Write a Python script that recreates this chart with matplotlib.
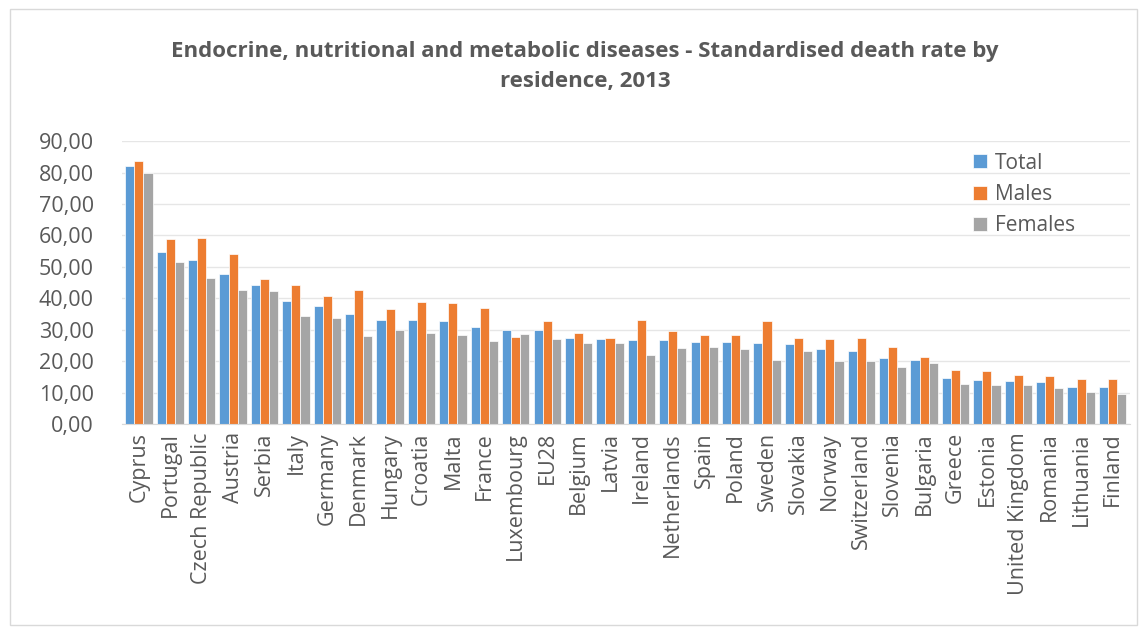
import matplotlib.pyplot as plt
import numpy as np
from matplotlib.ticker import FuncFormatter
from matplotlib.patches import Rectangle

plt.rcParams['font.family'] = ['Open Sans', 'DejaVu Sans']

countries = ["Cyprus", "Portugal", "Czech Republic", "Austria", "Serbia", "Italy",
             "Germany", "Denmark", "Hungary", "Croatia", "Malta", "France",
             "Luxembourg", "EU28", "Belgium", "Latvia", "Ireland", "Netherlands",
             "Spain", "Poland", "Sweden", "Slovakia", "Norway", "Switzerland",
             "Slovenia", "Bulgaria", "Greece", "Estonia", "United Kingdom",
             "Romania", "Lithuania", "Finland"]
total = [82.0, 54.8, 52.3, 47.8, 44.2, 39.0, 37.4, 34.9, 33.1, 33.1, 32.8, 30.8,
         29.8, 29.8, 27.4, 27.0, 26.6, 26.6, 26.2, 26.2, 25.8, 25.4, 23.8, 23.3,
         20.9, 20.5, 14.7, 14.0, 13.6, 13.2, 11.9, 11.9]
males = [83.7, 58.8, 59.3, 54.0, 46.2, 44.2, 40.6, 42.6, 36.5, 38.9, 38.4, 36.8,
         27.8, 32.7, 29.1, 27.4, 33.1, 29.5, 28.2, 28.2, 32.8, 27.4, 27.0, 27.4,
         24.5, 21.2, 17.2, 16.8, 15.5, 15.1, 14.2, 14.2]
females = [80.0, 51.5, 46.6, 42.6, 42.3, 34.5, 33.7, 28.0, 29.9, 29.1, 28.2, 26.3,
           28.7, 27.0, 25.8, 25.8, 22.1, 24.1, 24.5, 23.8, 20.4, 23.3, 20.1, 20.1,
           18.1, 19.3, 12.6, 12.3, 12.3, 11.5, 10.2, 9.5]

txt = "#595959"
fig = plt.figure(figsize=(11.47, 6.28), dpi=100)
ax = fig.add_axes([0.106, 0.325, 0.879, 0.45])

x = np.arange(len(countries))
w = 0.29
ax.bar(x - w, total, w, color="#5B9BD5", edgecolor="white", linewidth=0.5, label="Total")
ax.bar(x, males, w, color="#ED7D31", edgecolor="white", linewidth=0.5, label="Males")
ax.bar(x + w, females, w, color="#A5A5A5", edgecolor="white", linewidth=0.5, label="Females")

ax.set_xlim(-0.55, len(countries) - 0.45)
ax.set_ylim(0, 90)
ax.set_yticks(np.arange(0, 91, 10))
ax.yaxis.set_major_formatter(FuncFormatter(lambda v, p: f"{v:.2f}".replace(".", ",")))
ax.set_xticks(x)
ax.set_xticklabels(countries, rotation=90)
ax.tick_params(axis="both", length=0, labelsize=15.5, colors=txt)
ax.tick_params(axis="y", pad=20)
ax.tick_params(axis="x", pad=6)
ax.grid(axis="y", color="#E6E6E6", linewidth=1)
ax.set_axisbelow(True)
for s in ["top", "right", "left"]:
    ax.spines[s].set_visible(False)
ax.spines["bottom"].set_color("#D9D9D9")

fig.legend(loc="upper left", bbox_to_anchor=(0.832, 0.787), frameon=False,
           fontsize=15, labelcolor=txt, handlelength=0.65, handleheight=0.65,
           handletextpad=0.4, labelspacing=0.5)

fig.suptitle("Endocrine, nutritional and metabolic diseases - Standardised death rate by\nresidence, 2013",
             x=0.51, y=0.935, fontsize=16, fontweight="bold", color=txt, linespacing=1.55)

fig.patches.append(Rectangle((0.009, 0.005), 0.982, 0.98, transform=fig.transFigure,
                             fill=False, edgecolor="#D9D9D9", linewidth=1))

fig.savefig("out.png", dpi=100)
